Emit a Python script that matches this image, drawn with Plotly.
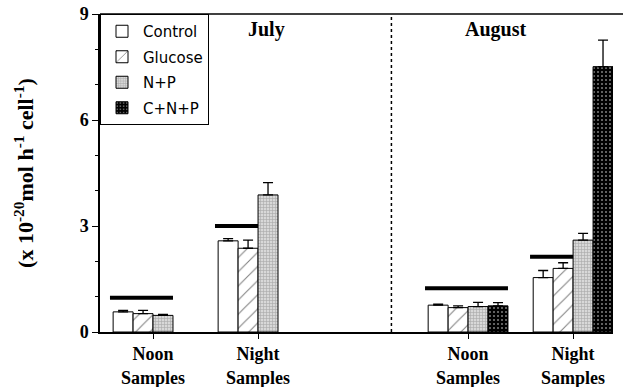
import plotly.graph_objects as go

# Sampling groups (month x time of day)
months = ["July", "July", "August", "August"]
sample_labels = ["Noon<br>Samples", "Night<br>Samples", "Noon<br>Samples", "Night<br>Samples"]

# Specific rates per treatment (x 10^-20 mol h^-1 cell^-1) and upper error
control = [0.57, 2.58, 0.76, 1.54]
control_err = [0.04, 0.06, 0.03, 0.20]
glucose = [0.52, 2.37, 0.69, 1.80]
glucose_err = [0.09, 0.23, 0.05, 0.16]
n_p = [0.47, 3.88, 0.72, 2.60]
n_p_err = [0.03, 0.35, 0.12, 0.19]
c_n_p = [None, None, 0.74, 7.51]
c_n_p_err = [None, None, 0.09, 0.75]

# In situ reference level shown as a thick bar across each group
in_situ = [0.97, 3.00, 1.24, 2.13]

treatments = ["Control", "Glucose", "N+P", "C+N+P"]

# x positions: one unit per group, with an extra unit separating the months
month_order = list(dict.fromkeys(months))
xpos = [i + month_order.index(m) for i, m in enumerate(months)]
month_title_x = [1.08, 3.26]

SERIF = "Liberation Serif"
SANS = "DejaVu Sans"
BARGAP = 0.24
bar_w = (1 - BARGAP) / len(treatments)

styles = [
    dict(color="white", pattern=dict(shape="")),
    dict(color="white", pattern=dict(shape="/", fgcolor="black", bgcolor="white",
                                     size=10, solidity=0.1)),
    dict(color="white", pattern=dict(shape="+", fgcolor="#7a7a7a", bgcolor="#d8d8d8",
                                     size=3, solidity=0.35)),
    dict(color="black", pattern=dict(shape=".", fgcolor="white", bgcolor="black",
                                     size=4, solidity=0.2)),
]
series = [(control, control_err), (glucose, glucose_err), (n_p, n_p_err), (c_n_p, c_n_p_err)]

fig = go.Figure()
for name, (vals, errs), st in zip(treatments, series, styles):
    fig.add_trace(go.Bar(
        x=xpos, y=vals, name=name, legendgroup=name,
        marker=dict(color=st["color"], pattern=st["pattern"],
                    line=dict(color="black", width=1)),
        error_y=dict(type="data", symmetric=False, array=errs,
                     arrayminus=[0 if e is not None else None for e in errs],
                     color="black", thickness=1.3, width=5),
    ))

shapes = []
# thick in situ level lines, spanning the treatments present in each group
for x, level, *vals in zip(xpos, in_situ, control, glucose, n_p, c_n_p):
    n = sum(v is not None for v in vals)
    x0 = x - (1 - BARGAP) / 2
    shapes.append(dict(type="line", xref="x", yref="y", layer="below",
                       x0=x0 - 0.03, x1=x0 + n * bar_w, y0=level, y1=level,
                       line=dict(color="black", width=4)))

# dotted divider between the two months
shapes.append(dict(type="line", xref="x", yref="paper", x0=2.27, x1=2.27, y0=0, y1=1,
                   line=dict(color="black", width=1.5, dash="dot")))
# top border running to the page edge
shapes.append(dict(type="line", xref="paper", yref="paper", x0=0, x1=1.02, y0=1, y1=1,
                   line=dict(color="black", width=1.5)))

annotations = []
for m, tx in zip(month_order, month_title_x):
    annotations.append(dict(x=tx, y=8.55, xref="x", yref="y",
                            text=f"<b>{m}</b>", showarrow=False,
                            font=dict(family=SERIF, size=20, color="black")))

fig.update_layout(
    width=623, height=387,
    margin=dict(l=100, r=10, t=14, b=55),
    paper_bgcolor="white", plot_bgcolor="white",
    barmode="group", bargap=BARGAP, bargroupgap=0,
    shapes=shapes, annotations=annotations,
    legend=dict(x=0, y=1, xanchor="left", yanchor="top",
                bordercolor="black", borderwidth=1, bgcolor="white",
                font=dict(family=SANS, size=15, color="black"),
                tracegroupgap=3, itemwidth=32),
    xaxis=dict(range=[-0.505, 4.38], tickvals=xpos, ticktext=[f"<b>{t}</b>" for t in sample_labels],
               showline=True, linecolor="black", linewidth=1.5,
               ticks="outside", ticklen=5, tickcolor="black",
               tickfont=dict(family=SERIF, size=18, color="black"),
               showgrid=False, zeroline=False, automargin=False),
    yaxis=dict(range=[0, 9], tickvals=[0, 3, 6, 9], ticktext=["<b>0</b>", "<b>3</b>", "<b>6</b>", "<b>9</b>"],
               showline=True, linecolor="black", linewidth=1.5,
               ticks="outside", ticklen=6, tickcolor="black",
               minor=dict(dtick=1, ticks="outside", ticklen=3, tickcolor="black"),
               tickfont=dict(family=SERIF, size=18, color="black"),
               showgrid=False, zeroline=False, automargin=False,
               title=dict(text="<b>(x 10<sup>-20</sup>mol h<sup>-1</sup> cell<sup>-1</sup>)</b>",
                          font=dict(family=SERIF, size=22, color="black"), standoff=40)),
)

fig.write_html("out.html")
